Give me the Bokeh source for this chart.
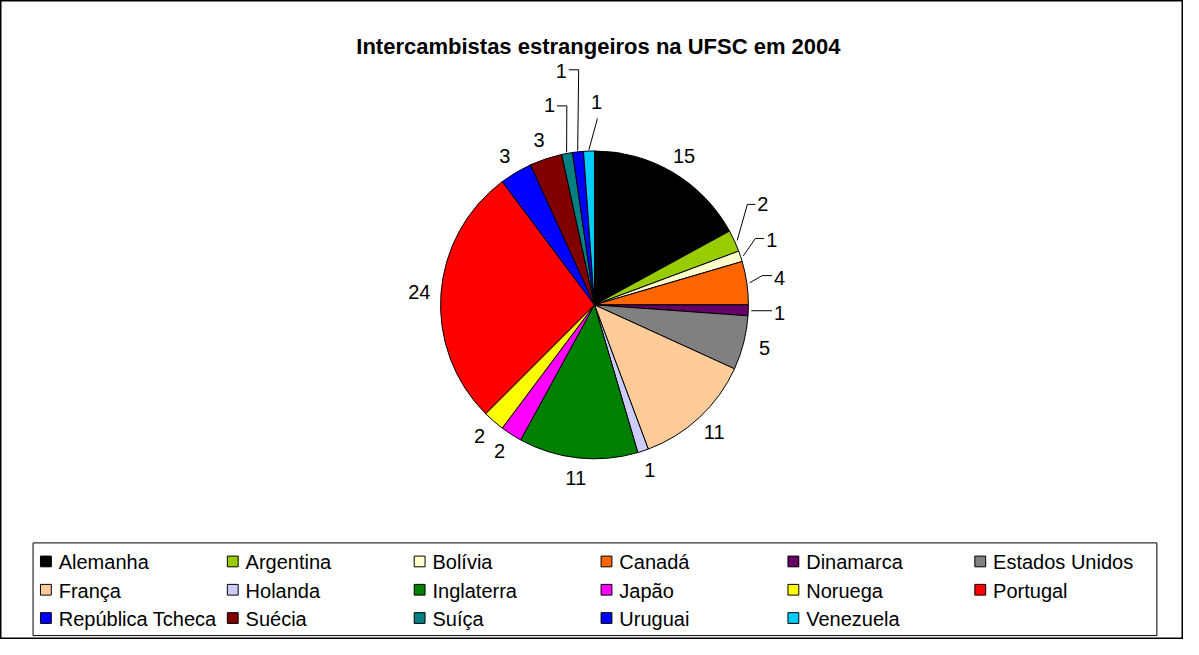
import math
from bokeh.plotting import figure
from bokeh.models import Range1d
from bokeh.core.properties import value
from bokeh.embed import file_html
from bokeh.resources import INLINE

# ---------------- data ----------------
title = "Intercambistas estrangeiros na UFSC em 2004"
countries = ["Alemanha", "Argentina", "Bolívia", "Canadá", "Dinamarca", "Estados Unidos",
             "França", "Holanda", "Inglaterra", "Japão", "Noruega", "Portugal",
             "República Tcheca", "Suécia", "Suíça", "Uruguai", "Venezuela"]
values = [15, 2, 1, 4, 1, 5, 11, 1, 11, 2, 2, 24, 3, 3, 1, 1, 1]
colors = ["#000000", "#99CC00", "#FFFFCC", "#FF6600", "#660066", "#808080",
          "#FFCC99", "#CCCCFF", "#008000", "#FF00FF", "#FFFF00", "#FF0000",
          "#0000FF", "#800000", "#008080", "#0000FF", "#00CCFF"]

# ---------------- layout (reference pixel coords, y downward) ----------------
W, H = 1183, 639
RW, RH = 1199, 655
FONT = value("Liberation Sans")

def Y(yref):
    return -yref

p = figure(width=W, height=H, output_backend="svg", toolbar_location=None,
           x_range=Range1d(0, RW), y_range=Range1d(-RH, 0),
           x_axis_location=None, y_axis_location=None, min_border=0)
p.grid.visible = False
p.outline_line_color = "black"
p.outline_line_width = 2
p.background_fill_color = "white"
p.border_fill_color = "white"

# title
p.text(x=[606], y=[Y(47)], text=[title], text_font=FONT, text_font_size="22px",
       text_font_style="bold", text_align="center", text_baseline="alphabetic",
       text_color="black")

# pie
cx, cy, r = 602, 312, 156
total = float(sum(values))
cum = [0]
for v in values:
    cum.append(cum[-1] + v)
starts = [math.pi / 2 - 2 * math.pi * cum[i + 1] / total for i in range(len(values))]
ends = [math.pi / 2 - 2 * math.pi * cum[i] / total for i in range(len(values))]
p.wedge(x=cx, y=Y(cy), radius=r, start_angle=starts, end_angle=ends,
        fill_color=colors, line_color="black", line_width=1)

# data labels
mids = [2 * math.pi * (cum[i] + values[i] / 2) / total for i in range(len(values))]
# leader-line labels: index -> (elbow, end, label anchor, align)
leaders = {
    1: ((757, 209), (765, 209), (767, 209), "left"),
    2: ((765, 244), (774, 244), (776, 245), "left"),
    3: ((772, 282), (782, 282), (784, 284), "left"),
    4: (None, (782, 318), (784, 320), "left"),
    14: ((574, 108), (564, 108), (562, 107), "right"),
    15: ((586, 71), (576, 71), (574, 72), "right"),
    16: ((605, 121), (605, 121), (604, 104), "center"),
}
lx, ly, lt, la = [], [], [], []
line_xs, line_ys = [], []
d = 178
for i, v in enumerate(values):
    th = mids[i]
    if i in leaders:
        elbow, end, anchor, align = leaders[i]
        ex = cx + (r + 3) * math.sin(th)
        ey = cy - (r + 3) * math.cos(th)
        pts = [(ex, ey)]
        if elbow is not None:
            pts.append(elbow)
        else:
            pts[0] = (ex, end[1])
        pts.append(end)
        line_xs.append([pt[0] for pt in pts])
        line_ys.append([Y(pt[1]) for pt in pts])
        lx.append(anchor[0]); ly.append(Y(anchor[1])); la.append(align)
    else:
        lx.append(cx + d * math.sin(th)); ly.append(Y(cy - d * math.cos(th))); la.append("center")
    lt.append(str(v))

p.multi_line(xs=line_xs, ys=line_ys, line_color="black", line_width=1)
for align in ("left", "right", "center"):
    idx = [k for k in range(len(lt)) if la[k] == align]
    p.text(x=[lx[k] for k in idx], y=[ly[k] for k in idx], text=[lt[k] for k in idx],
           text_font=FONT, text_font_size="20px", text_align=align,
           text_baseline="middle", text_color="black")

# legend
box_l, box_r, box_t, box_b = 33, 1172, 556, 651
p.quad(left=[box_l], right=[box_r], top=[Y(box_t)], bottom=[Y(box_b)],
       fill_color="white", line_color="black", line_width=1)
col_x = [40, 229.4, 418.8, 608.2, 797.6, 987]
row_y = [575, 604, 633]
mx, my, mc, tx, ty, tt = [], [], [], [], [], []
for i, name in enumerate(countries):
    rr, cc = divmod(i, 6)
    mx.append(col_x[cc] + 6); my.append(Y(row_y[rr])); mc.append(colors[i])
    tx.append(col_x[cc] + 19); ty.append(Y(row_y[rr] + 1)); tt.append(name)
p.rect(x=mx, y=my, width=11, height=11, fill_color=mc, line_color="black", line_width=1)
p.text(x=tx, y=ty, text=tt, text_font=FONT, text_font_size="20px", text_align="left",
       text_baseline="middle", text_color="black")

open("out.html", "w").write(file_html(p, INLINE))
